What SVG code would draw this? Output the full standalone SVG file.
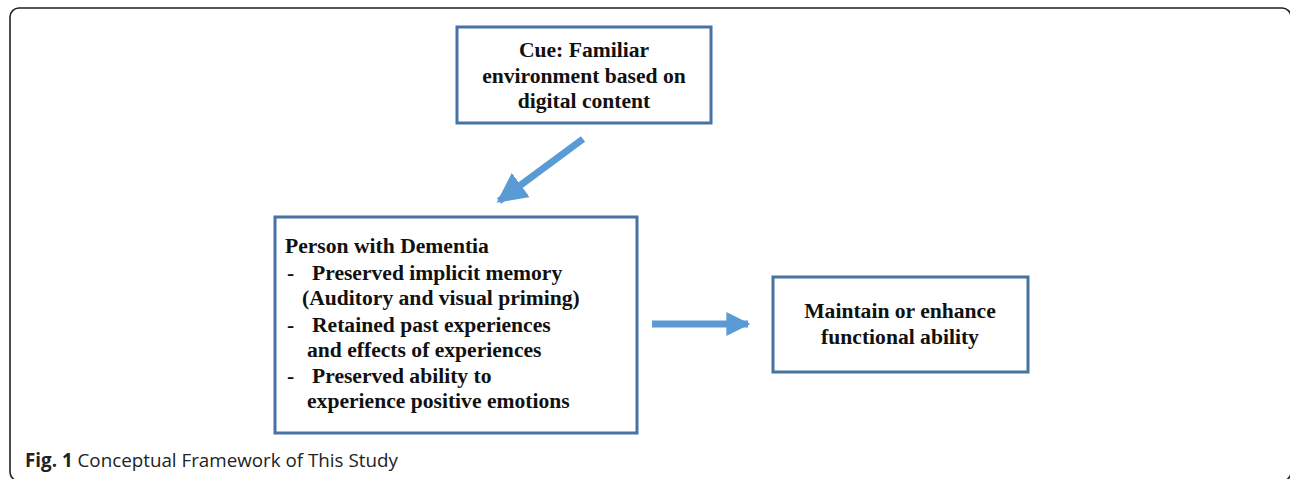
<svg xmlns="http://www.w3.org/2000/svg" width="1290" height="479" viewBox="0 0 1290 479">
<defs>
<style>
.frame{fill:#fff;stroke:#222;stroke-width:1.6}
.box{fill:#fff;stroke:#4672a4;stroke-width:3}
.t{font-family:"Liberation Serif","Times New Roman",serif;font-weight:bold;font-size:21.6px;fill:#111}
.c{text-anchor:middle}
.conn{stroke:#5b9bd5;stroke-width:7;fill:none}
.cap{font-family:"Open Sans","Noto Sans",sans-serif;font-size:18.8px;fill:#222}
</style>
<marker id="ah" viewBox="0 0 10 10" refX="9" refY="5" markerUnits="userSpaceOnUse" markerWidth="24" markerHeight="24" orient="auto">
<path d="M0,0 L10,5 L0,10 z" fill="#5b9bd5"/>
</marker>
<marker id="ah2" viewBox="0 0 10 10" refX="9" refY="5" markerUnits="userSpaceOnUse" markerWidth="30" markerHeight="30" orient="auto">
<path d="M0,0 L10,5 L0,10 z" fill="#5b9bd5"/>
</marker>
</defs>
<rect class="frame" x="10" y="8" width="1281" height="473" rx="9"/>
<g id="cue">
<rect class="box" x="457" y="27" width="254" height="96"/>
<text class="t c" x="584" y="57">Cue: Familiar</text>
<text class="t c" x="584" y="83">environment based on</text>
<text class="t c" x="584" y="108">digital content</text>
</g>
<g id="person">
<rect class="box" x="275" y="217" width="362" height="216"/>
<text class="t" x="285" y="253">Person with Dementia</text>
<text class="t" x="287" y="280">-</text>
<text class="t" x="312" y="280">Preserved implicit memory</text>
<text class="t" x="302" y="305">(Auditory and visual priming)</text>
<text class="t" x="287" y="332">-</text>
<text class="t" x="312" y="332">Retained past experiences</text>
<text class="t" x="307" y="357">and effects of experiences</text>
<text class="t" x="287" y="383">-</text>
<text class="t" x="312" y="383">Preserved ability to</text>
<text class="t" x="307" y="408">experience positive emotions</text>
</g>
<g id="outcome">
<rect class="box" x="773" y="277" width="255" height="95"/>
<text class="t c" x="900" y="318">Maintain or enhance</text>
<text class="t c" x="900" y="344">functional ability</text>
</g>
<g id="connectors">
<line class="conn" x1="583" y1="139" x2="499" y2="201" marker-end="url(#ah2)"/>
<line class="conn" x1="652" y1="324" x2="748" y2="324" marker-end="url(#ah)"/>
</g>
<text class="cap" x="25" y="467"><tspan font-weight="bold">Fig. 1</tspan> Conceptual Framework of This Study</text>
</svg>
